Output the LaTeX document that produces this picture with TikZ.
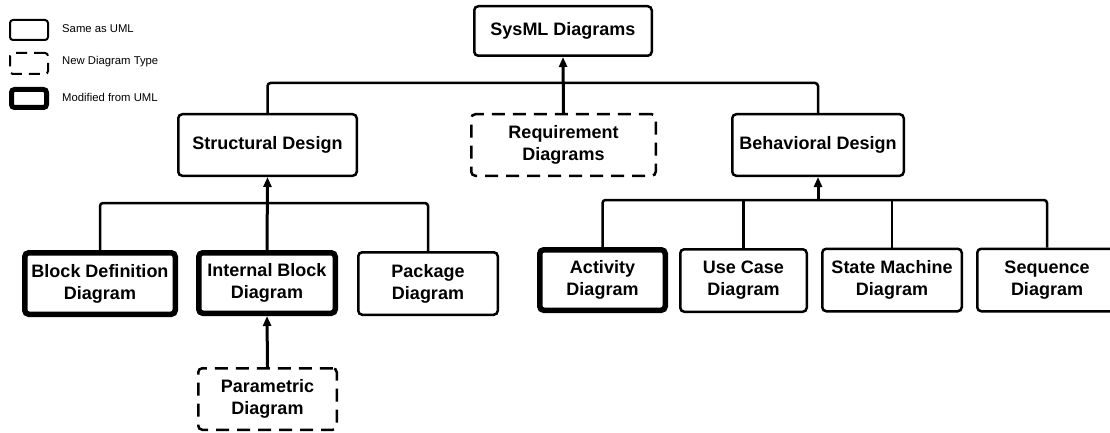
\documentclass[tikz,border=0pt]{standalone}
\usepackage{fontspec}
\setmainfont{Liberation Sans}
\usetikzlibrary{arrows.meta}
\begin{document}
\begin{tikzpicture}[x=1pt,y=-1pt,
  base/.style={rounded corners=4pt, align=center, inner sep=1pt,
    font=\fontsize{18}{22}\selectfont\bfseries},
  thinbox/.style={base, draw, line width=2.5pt},
  newbox/.style={base, draw, line width=2.5pt, dash pattern=on 13pt off 8pt},
  modbox/.style={base, draw, line width=5.5pt},
  conn/.style={line width=2.5pt, rounded corners=3pt},
  arr/.style={line width=3pt, -{Triangle[length=10pt,width=8pt]}},
  legtext/.style={anchor=west, inner sep=0pt, font=\fontsize{11.3}{13}\selectfont}
]
\useasboundingbox (0,0) rectangle (1110,433);

% legend
\node[draw, line width=2pt, rounded corners=3pt, minimum width=38pt, minimum height=20pt, inner sep=0pt] (l1) at (29,30) {};
\node[draw, line width=2pt, rounded corners=3pt, dash pattern=on 11pt off 7pt, minimum width=38pt, minimum height=21pt, inner sep=0pt] (l2) at (29,63.5) {};
\node[draw, line width=5pt, rounded corners=3pt, minimum width=35pt, minimum height=18pt, inner sep=0pt] (l3) at (29,98.5) {};
\node[legtext] (t1) at (62,29) {Same as UML};
\node[legtext] (t2) at (62,62) {New Diagram Type};
\node[legtext] (t3) at (62,97) {Modified from UML};

% nodes
\node[thinbox, minimum width=177.5pt, minimum height=49.5pt] (sysml) at (563,31) {SysML Diagrams};
\node[newbox, minimum width=184.5pt, minimum height=61.5pt] (req) at (563.5,145) {Requirement\\Diagrams};
\node[thinbox, minimum width=178.5pt, minimum height=61.5pt] (struct) at (267.5,145) {Structural Design};
\node[thinbox, minimum width=171.5pt, minimum height=61.5pt] (behav) at (818,145) {Behavioral Design};

\node[modbox, minimum width=150.5pt, minimum height=61.5pt] (bdd) at (100,283.5) {Block Definition\\Diagram};
\node[modbox, minimum width=136.5pt, minimum height=60.5pt] (ibd) at (267,283) {Internal Block\\Diagram};
\node[thinbox, minimum width=139.5pt, minimum height=62.5pt] (pkg) at (428,283.5) {Package\\Diagram};
\node[newbox, minimum width=138.5pt, minimum height=61.5pt] (param) at (267.5,399) {Parametric\\Diagram};

\node[modbox, minimum width=125.5pt, minimum height=60.5pt] (act) at (602.5,280) {Activity\\Diagram};
\node[thinbox, minimum width=126.5pt, minimum height=62.5pt] (uc) at (743.5,280.5) {Use Case\\Diagram};
\node[thinbox, minimum width=139.5pt, minimum height=62.5pt] (sm) at (892,280) {State Machine\\Diagram};
\node[thinbox, minimum width=139.5pt, minimum height=62.5pt] (seq) at (1047,280) {Sequence\\Diagram};

% junctions
\coordinate (jT) at (563,83);
\coordinate (jS) at (267,203);
\coordinate (jB) at (818,200);

% connectors
\draw[conn] (struct.north) |- (jT);
\draw[conn] (behav.north) |- (jT);
\draw[arr] (req.north) -- (sysml.south);

\draw[conn] (bdd.north) |- (jS);
\draw[conn] (pkg.north) |- (jS);
\draw[arr] (ibd.north) -- (struct.south);
\draw[arr] (param.north) -- (ibd.south);

\draw[conn] (act.north) |- (jB);
\draw[conn] (seq.north) |- (jB);
\draw[conn] (uc.north) -- (uc.north |- jB);
\draw[conn] (sm.north) -- (sm.north |- jB);
\draw[arr] (jB) -- (behav.south);
\end{tikzpicture}
\end{document}
